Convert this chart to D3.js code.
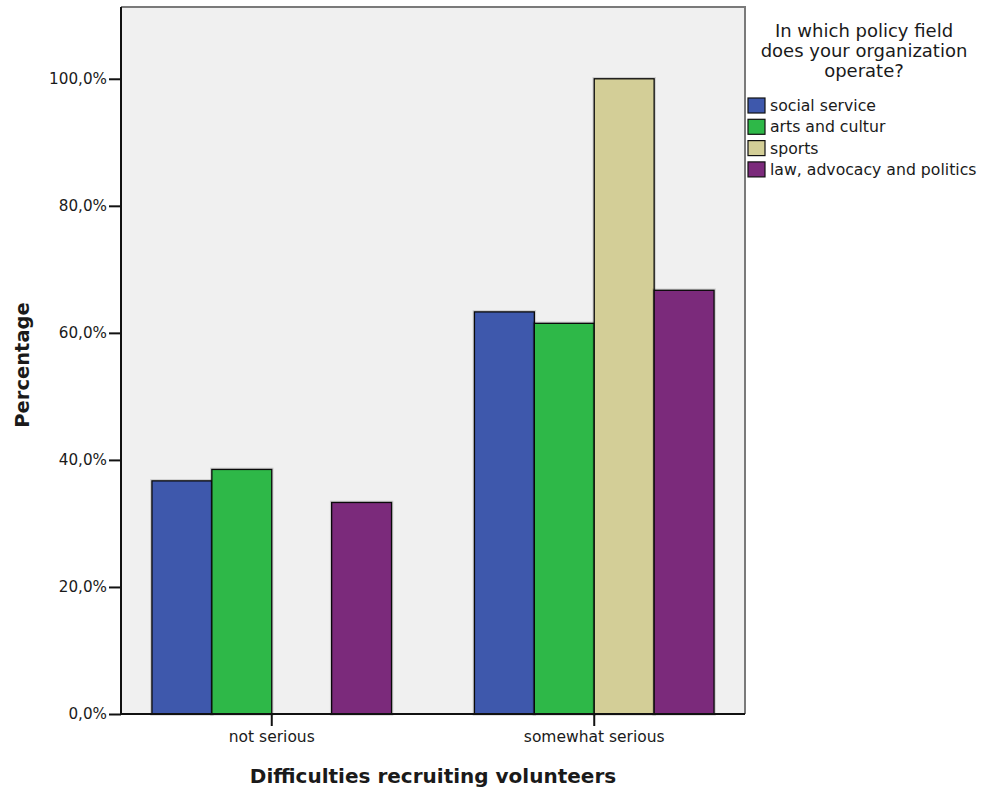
<!DOCTYPE html>
<html>
<head>
<meta charset="utf-8">
<script src="https://cdn.jsdelivr.net/npm/d3@7"></script>
<style>
  html, body { margin: 0; padding: 0; background: #ffffff; }
  svg { display: block; }
  text { font-family: "DejaVu Sans", sans-serif; fill: #1a1a1a; }
</style>
</head>
<body>
<svg id="chart" width="985" height="794"></svg>
<script>
// Share of organisations per difficulty level, by policy field (%)
const categories = ["not serious", "somewhat serious"];
const fields = ["social service", "arts and cultur", "sports", "law, advocacy and politics"];
const socialService = [36.7, 63.3];
const artsCultur = [38.5, 61.5];
const sports = [0, 100];
const lawAdvocacy = [33.3, 66.7];
const seriesValues = [socialService, artsCultur, sports, lawAdvocacy];
const yTicks = [0, 20, 40, 60, 80, 100];
const fieldColors = ["#3e58ac", "#2eb848", "#d3ce97", "#7b2a7b"];

const legendTitle = ["In which policy field", "does your organization", "operate?"];
const xTitle = "Difficulties recruiting volunteers";
const yTitle = "Percentage";

const plot = { left: 121, right: 745, top: 7, bottom: 714 };
const yMax = 111.3;

const svg = d3.select("#chart");

const x = d3.scaleBand()
  .domain(categories)
  .range([plot.left, plot.right])
  .paddingInner(0.257)
  .paddingOuter(0.096);

const xSub = d3.scaleBand()
  .domain(fields)
  .range([0, x.bandwidth()]);

const y = d3.scaleLinear()
  .domain([0, yMax])
  .range([plot.bottom, plot.top]);

// plot background and frame
svg.append("rect")
  .attr("x", plot.left).attr("y", plot.top)
  .attr("width", plot.right - plot.left).attr("height", plot.bottom - plot.top)
  .attr("fill", "#f0f0f0");
svg.append("path")
  .attr("d", `M${plot.left},${plot.top}H${plot.right}V${plot.bottom}`)
  .attr("fill", "none")
  .attr("stroke", "#7a7a7a")
  .attr("stroke-width", 2);

// bars
const rows = [];
categories.forEach((c, ci) => {
  fields.forEach((f, fi) => {
    rows.push({ category: c, field: f, value: seriesValues[fi][ci], color: fieldColors[fi] });
  });
});

const barG = svg.append("g");
const bars = barG.selectAll("g.bar")
  .data(rows.filter(d => d.value > 0))
  .join("g").attr("class", "bar");

// soft edge shadow under each bar
bars.append("rect")
  .attr("x", d => x(d.category) + xSub(d.field))
  .attr("y", d => y(d.value))
  .attr("width", xSub.bandwidth())
  .attr("height", d => y(0) - y(d.value))
  .attr("fill", "none")
  .attr("stroke", "rgba(0,0,0,0.15)")
  .attr("stroke-width", 3.5);

bars.append("rect")
  .attr("x", d => x(d.category) + xSub(d.field))
  .attr("y", d => y(d.value))
  .attr("width", xSub.bandwidth())
  .attr("height", d => y(0) - y(d.value))
  .attr("fill", d => d.color)
  .attr("stroke", "#0a0a0a")
  .attr("stroke-width", 1.3);

// y axis
const yAxis = d3.axisLeft(y)
  .tickValues(yTicks)
  .tickSize(12)
  .tickPadding(2)
  .tickFormat(v => d3.format(".1f")(v).replace(".", ",") + "%");
const yG = svg.append("g")
  .attr("transform", `translate(${plot.left},0)`)
  .call(yAxis);
yG.select(".domain").attr("stroke", "#111").attr("stroke-width", 2)
  .attr("d", `M0,${plot.top}V${plot.bottom}`);
yG.selectAll(".tick line").attr("stroke", "#111").attr("stroke-width", 2);
yG.selectAll(".tick text")
  .attr("font-family", "DejaVu Sans")
  .attr("font-size", 15.2)
  .attr("fill", "#1a1a1a");

// x axis
const xAxis = d3.axisBottom(x)
  .tickSize(12)
  .tickPadding(5);
const xG = svg.append("g")
  .attr("transform", `translate(0,${plot.bottom})`)
  .call(xAxis);
xG.select(".domain").attr("stroke", "#111").attr("stroke-width", 2)
  .attr("d", `M${plot.left},0H${plot.right}`);
xG.selectAll(".tick line").attr("stroke", "#111").attr("stroke-width", 2);
xG.selectAll(".tick text")
  .attr("font-family", "DejaVu Sans")
  .attr("font-size", 15.5)
  .attr("fill", "#1a1a1a");

// axis titles
svg.append("text")
  .attr("x", (plot.left + plot.right) / 2)
  .attr("y", 783)
  .attr("text-anchor", "middle")
  .attr("font-size", 20)
  .attr("font-weight", "bold")
  .attr("fill", "#111")
  .text(xTitle);

svg.append("text")
  .attr("transform", "translate(29,365) rotate(-90)")
  .attr("text-anchor", "middle")
  .attr("font-size", 19.5)
  .attr("font-weight", "bold")
  .attr("fill", "#111")
  .text(yTitle);

// legend
const legend = svg.append("g");
legend.selectAll("text.title")
  .data(legendTitle)
  .join("text")
  .attr("class", "title")
  .attr("x", 864)
  .attr("y", (d, i) => 37 + i * 20)
  .attr("text-anchor", "middle")
  .attr("font-size", 18)
  .text(d => d);

const item = legend.selectAll("g.item")
  .data(fields)
  .join("g")
  .attr("class", "item")
  .attr("transform", (d, i) => `translate(748,${98 + i * 21.3})`);
item.append("rect")
  .attr("width", 17).attr("height", 15)
  .attr("fill", (d, i) => fieldColors[i])
  .attr("stroke", "#111")
  .attr("stroke-width", 1.2);
item.append("text")
  .attr("x", 22)
  .attr("y", 13)
  .attr("font-size", 15.7)
  .text(d => d);
</script>
</body>
</html>
